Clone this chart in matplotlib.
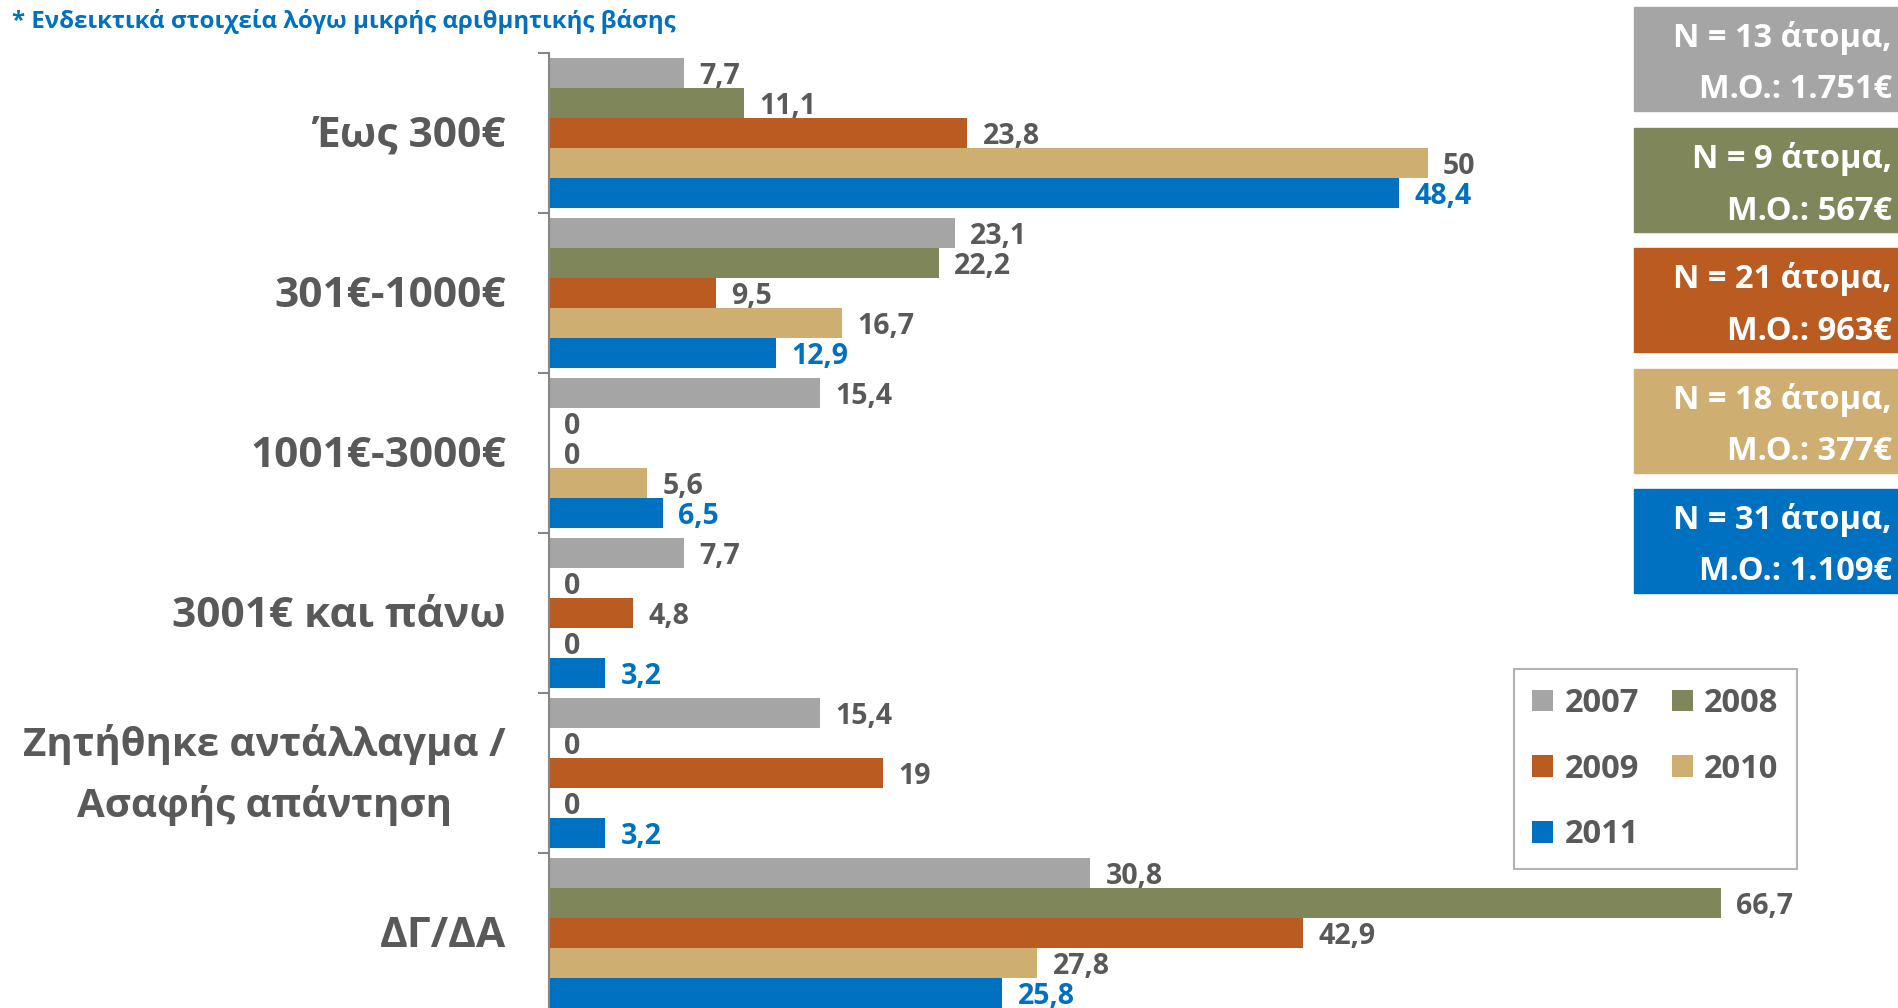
import numpy as np
import matplotlib.pyplot as plt
from matplotlib.patches import Rectangle

plt.rcParams['font.family'] = ['Open Sans', 'DejaVu Sans']

categories = ['Έως 300€', '301€-1000€', '1001€-3000€', '3001€ και πάνω',
              'Ζητήθηκε αντάλλαγμα /\nΑσαφής απάντηση', 'ΔΓ/ΔΑ']
years = ['2007', '2008', '2009', '2010', '2011']
v2007 = [7.7, 23.1, 15.4, 7.7, 15.4, 30.8]
v2008 = [11.1, 22.2, 0, 0, 0, 66.7]
v2009 = [23.8, 9.5, 0, 4.8, 19, 42.9]
v2010 = [50, 16.7, 5.6, 0, 0, 27.8]
v2011 = [48.4, 12.9, 6.5, 3.2, 3.2, 25.8]
box_lines = [('N = 13 άτομα,', 'Μ.Ο.: 1.751€'),
             ('N = 9 άτομα,', 'Μ.Ο.: 567€'),
             ('N = 21 άτομα,', 'Μ.Ο.: 963€'),
             ('N = 18 άτομα,', 'Μ.Ο.: 377€'),
             ('N = 31 άτομα,', 'Μ.Ο.: 1.109€')]
note = '* Ενδεικτικά στοιχεία λόγω μικρής αριθμητικής βάσης'

colors = ['#A5A5A5', '#7F865A', '#BA5B22', '#CFAE72', '#0070C0']
label_colors = ['#595959'] * 4 + ['#0070C0']
series = [v2007, v2008, v2009, v2010, v2011]

W, H = 1898, 1008
fig = plt.figure(figsize=(W / 100, H / 100), dpi=100)
ax = fig.add_axes([549 / W, 1 - 53 / H - 960 / H, 1349 / W, 960 / H])

bar_h = 30 / 160
y = np.arange(len(categories))
bars = []
for i, vals in enumerate(series):
    pos = y - 2 * bar_h + i * bar_h
    b = ax.barh(pos, vals, height=bar_h, color=colors[i], label=years[i])
    bars.append(b)
    for p, v in zip(pos, vals):
        txt = str(int(v)) if float(v).is_integer() else f'{v}'.replace('.', ',')
        ax.annotate(txt, (v, p), xytext=(11, -2.5), textcoords='offset points',
                    va='center', ha='left', fontsize=20.5, fontweight='bold',
                    color=label_colors[i])

ax.set_xlim(0, 1349 / 17.57)
ax.set_ylim(len(categories) - 0.5, -0.5)
ax.set_xticks([])
ax.set_yticks(np.arange(-0.5, len(categories), 1))
ax.set_yticklabels([])
ax.tick_params(axis='y', length=8, width=1.5, color='#868686')
for s in ['top', 'right', 'bottom']:
    ax.spines[s].set_visible(False)
ax.spines['left'].set_color('#868686')
ax.spines['left'].set_linewidth(1.5)

# category labels
lab_x = (506 - 549) / 1349
for yi, cat in zip(y, categories):
    if '\n' in cat:
        ax.text(lab_x, yi + 0.015, cat, transform=ax.get_yaxis_transform(),
                ha='right', va='center', multialignment='center', fontsize=29,
                fontweight='bold', color='#595959', linespacing=1.62)
    else:
        ax.text(lab_x, yi + 0.022, cat, transform=ax.get_yaxis_transform(),
                ha='right', va='center', fontsize=30.5, fontweight='bold',
                color='#595959')

# legend, filled row by row
order = [0, 2, 4, 1, 3]
leg = ax.legend([bars[k] for k in order], [years[k] for k in order], ncol=2,
                loc='upper left', bbox_to_anchor=((1514 - 549) / 1349, 1 - (669 - 53) / 960),
                frameon=True, fancybox=False, prop={'size': 23.5, 'weight': 'bold'},
                labelcolor='#595959', handlelength=0.65, handleheight=0.65,
                handletextpad=0.35, columnspacing=1.0, labelspacing=1.0,
                borderpad=0.55, borderaxespad=0)
leg.get_frame().set_edgecolor('#A0A0A0')
leg.get_frame().set_linewidth(1.5)

# N / mean boxes on the right
tops = [7, 128, 248, 369, 489]
for k, (l1, l2) in enumerate(box_lines):
    t = tops[k]
    fig.patches.append(Rectangle((1634 / W, 1 - (t + 104) / H), (W - 1634) / W, 104 / H,
                                 transform=fig.transFigure, color=colors[k]))
    fig.text(1892 / W, 1 - (t + 31) / H, l1, ha='right', va='center',
             fontsize=23.5, fontweight='bold', color='white')
    fig.text(1892 / W, 1 - (t + 83) / H, l2, ha='right', va='center',
             fontsize=23.5, fontweight='bold', color='white')

fig.text(12 / W, 1 - 21 / H, note, ha='left', va='center', fontsize=17.3,
         fontweight='bold', color='#0070C0')

fig.savefig('out.png', dpi=100)
